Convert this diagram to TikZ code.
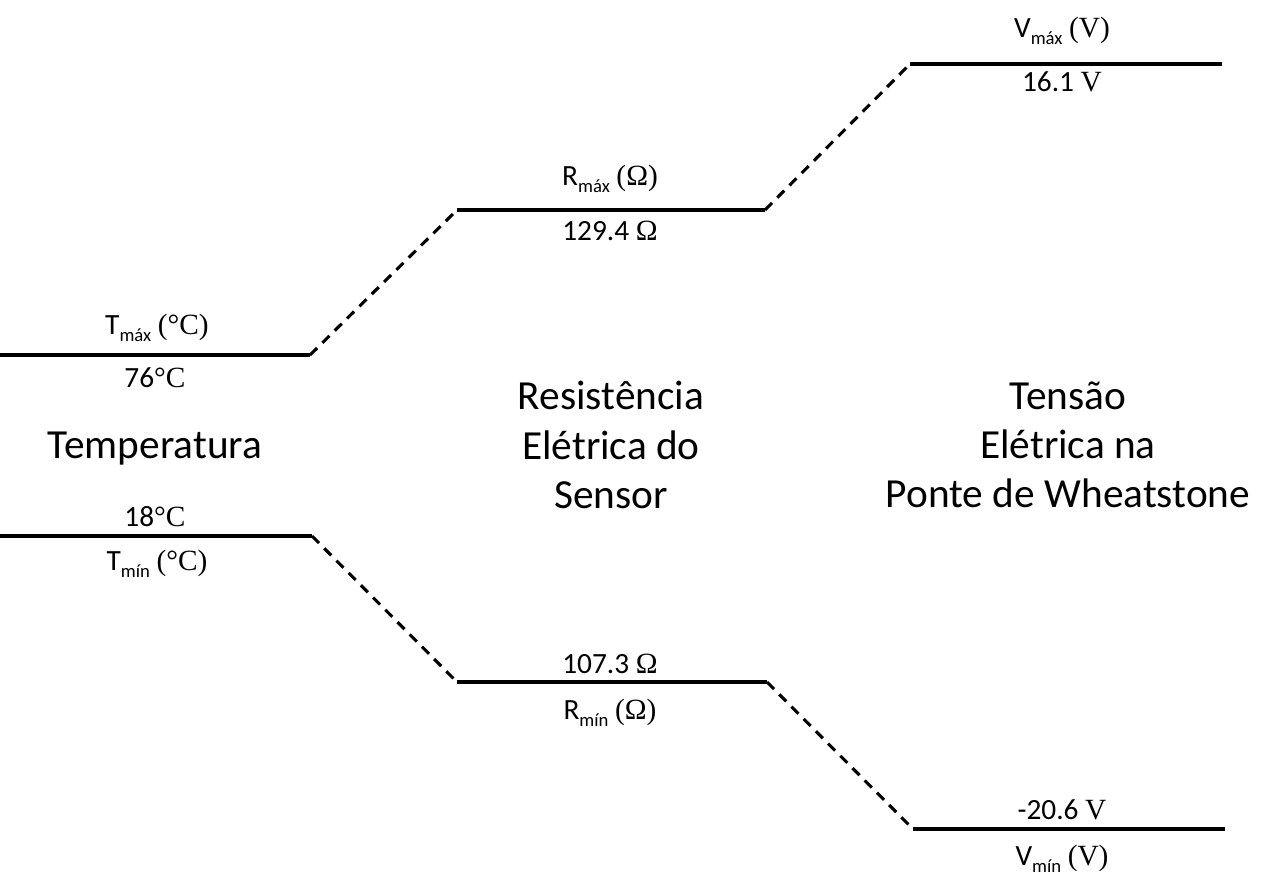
\documentclass[tikz,border=0pt]{standalone}
\usepackage{fontspec}
\setmainfont{Carlito}
\newfontfamily\tms{Liberation Serif}
\begin{document}
\begin{tikzpicture}[x=0.75pt,y=-0.75pt,
  lvl/.style={line width=2.3pt},
  link/.style={line width=2.3pt,dash pattern=on 7.5pt off 5.5pt},
  lab/.style={font=\fontsize{22}{26}\selectfont,inner sep=0pt},
  big/.style={font=\fontsize{31}{37}\selectfont,align=center,inner sep=0pt}]
\useasboundingbox (0,0) rectangle (1279,893);
\newcommand{\sbs}[1]{\raisebox{-0.22em}{\fontsize{14}{16}\selectfont #1}}
% coordinates
\coordinate (t1a) at (0,355); \coordinate (t1b) at (310,355);
\coordinate (t2a) at (0,536); \coordinate (t2b) at (312,536);
\coordinate (r1a) at (457,210); \coordinate (r1b) at (765,210);
\coordinate (r2a) at (457,682); \coordinate (r2b) at (767,682);
\coordinate (v1a) at (910,64); \coordinate (v1b) at (1222,64);
\coordinate (v2a) at (913,829); \coordinate (v2b) at (1225,829);
% levels
\draw[lvl] (t1a) -- (t1b);
\draw[lvl] (t2a) -- (t2b);
\draw[lvl] (r1a) -- (r1b);
\draw[lvl] (r2a) -- (r2b);
\draw[lvl] (v1a) -- (v1b);
\draw[lvl] (v2a) -- (v2b);
% links
\draw[link] (t1b) -- (r1a);
\draw[link] (r1b) -- (v1a);
\draw[link] (t2b) -- (r2a);
\draw[link] (r2b) -- (v2a);
% labels
\node[lab] (tmax) at (157,328) {T\sbs{máx} {\tms(°C)}};
\node[lab] (tmaxv) at (155,378) {76{\tms°C}};
\node[lab] (tminv) at (155,517) {18{\tms°C}};
\node[lab] (tmin) at (157,564) {T\sbs{mín} {\tms(°C)}};
\node[lab] (rmax) at (610,179) {R\sbs{máx} {\tms(Ω)}};
\node[lab] (rmaxv) at (610,231) {129.4 {\tms Ω}};
\node[lab] (rminv) at (610,664) {107.3 {\tms Ω}};
\node[lab] (rmin) at (610,713) {R\sbs{mín} {\tms(Ω)}};
\node[lab] (vmax) at (1062,31) {V\sbs{máx} {\tms(V)}};
\node[lab] (vmaxv) at (1062,82) {16.1 {\tms V}};
\node[lab] (vminv) at (1062,810) {-20.6 {\tms V}};
\node[lab] (vmin) at (1062,859) {V\sbs{mín} {\tms(V)}};
\node[big] (temp) at (155,449) {Temperatura};
\node[big] (res) at (611,445) {Resistência\\Elétrica do\\Sensor};
\node[big] (ten) at (1068,445) {Tensão\\Elétrica na\\Ponte de Wheatstone};
\end{tikzpicture}
\end{document}
